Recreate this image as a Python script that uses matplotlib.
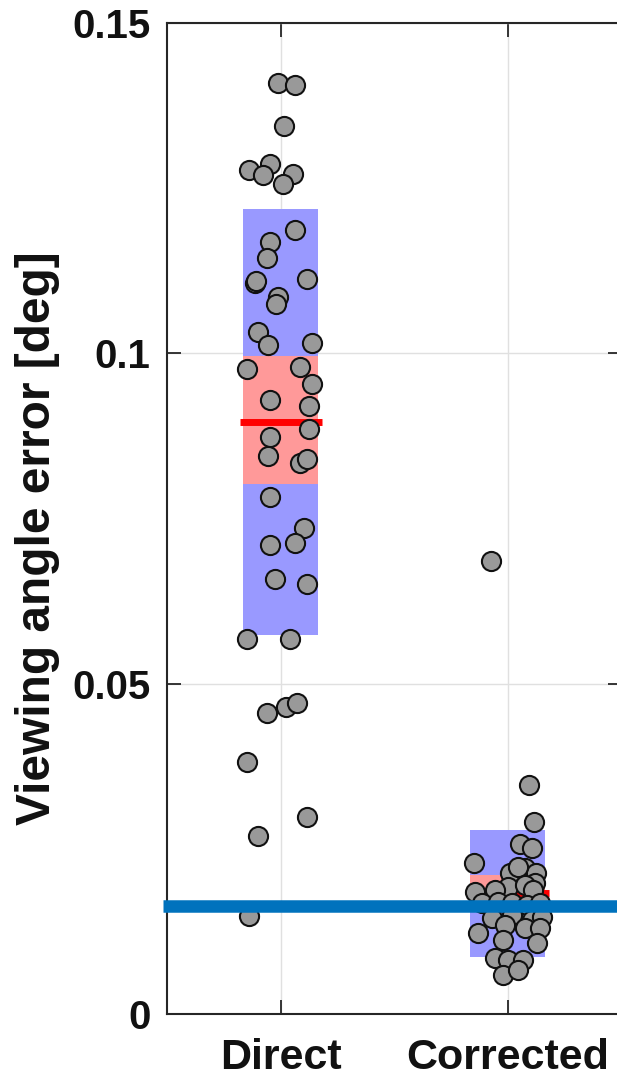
import matplotlib
matplotlib.use("Agg")
import matplotlib.pyplot as plt
import numpy as np

plt.rcParams['font.family'] = ['Liberation Sans', 'DejaVu Sans']

categories = ["Direct", "Corrected"]

direct_values = [0.1409, 0.1406, 0.1344, 0.1278, 0.1287, 0.1270, 0.1272, 0.1257,
                 0.1186, 0.1169, 0.1144, 0.1106, 0.1109, 0.1112, 0.1086, 0.1074,
                 0.1033, 0.1012, 0.1015, 0.0977, 0.0980, 0.0953, 0.0929, 0.0921,
                 0.0885, 0.0873, 0.0844, 0.0834, 0.0840, 0.0782, 0.0736, 0.0713,
                 0.0710, 0.0659, 0.0651, 0.0568, 0.0568, 0.0455, 0.0464, 0.0471,
                 0.0381, 0.0298, 0.0270, 0.0148]
direct_jitter = [-0.013, 0.062, 0.013, -0.141, -0.048, -0.079, 0.053, 0.009,
                 0.062, -0.048, -0.062, -0.115, -0.110, 0.115, -0.013, -0.022,
                 -0.101, -0.057, 0.137, -0.150, 0.084, 0.137, -0.048, 0.123,
                 0.123, -0.048, -0.057, 0.084, 0.115, -0.048, 0.101, 0.062,
                 -0.048, -0.026, 0.115, -0.150, 0.040, -0.062, 0.022, 0.070,
                 -0.150, 0.115, -0.101, -0.141]

corrected_values = [0.0346, 0.0290, 0.0258, 0.0251, 0.0228, 0.0213, 0.0221, 0.0213,
                    0.0222, 0.0199, 0.0192, 0.0195, 0.0184, 0.0187, 0.0187, 0.0168,
                    0.0169, 0.0168, 0.0165, 0.0168, 0.0145, 0.0150, 0.0142, 0.0147,
                    0.0122, 0.0134, 0.0130, 0.0130, 0.0112, 0.0107, 0.0085, 0.0082,
                    0.0082, 0.0059, 0.0066, 0.0686]
corrected_jitter = [0.093, 0.115, 0.053, 0.106, -0.150, 0.009, 0.075, 0.123,
                    0.044, 0.119, 0.000, 0.075, -0.145, -0.057, 0.110, -0.115,
                    -0.044, 0.018, 0.084, 0.141, -0.070, 0.018, 0.106, 0.150,
                    -0.132, -0.013, 0.075, 0.141, -0.022, 0.128, -0.057, 0.000,
                    0.066, -0.022, 0.044, -0.075]

means = [0.0896, 0.0183]
ci_low = [0.0802, 0.0155]
ci_high = [0.0996, 0.0211]
sd_low = [0.0573, 0.0086]
sd_high = [0.1219, 0.0279]
reference_level = 0.0163

fig = plt.figure(figsize=(6.17, 10.77), dpi=100)
ax = fig.add_axes([0.2707, 0.0585, 0.7366, 0.9201])

positions = [1, 2]
values = [direct_values, corrected_values]
jitters = [direct_jitter, corrected_jitter]
box_hw = 0.165
line_hw = 0.18

for i, p in enumerate(positions):
    ax.fill_between([p - box_hw, p + box_hw], sd_low[i], sd_high[i],
                    color='#9999FF', lw=0, zorder=2)
    ax.fill_between([p - box_hw, p + box_hw], ci_low[i], ci_high[i],
                    color='#FF9999', lw=0, zorder=3)
    ax.plot([p - line_hw, p + line_hw], [means[i], means[i]], color='#FF0000',
            lw=5, solid_capstyle='butt', zorder=4)
    xs = p + np.array(jitters[i])
    ax.scatter(xs, values[i], s=190, facecolor='#999999', edgecolor='#111111',
               linewidth=1.5, zorder=5)

ax.plot([0.482, 2.6], [reference_level, reference_level], color='#0072BD',
        lw=9, solid_capstyle='butt', zorder=6, clip_on=False)

ax.set_xlim(0.5, 2.5)
ax.set_ylim(0, 0.15)
ax.set_xticks(positions)
ax.set_xticklabels(categories)
ax.set_yticks([0, 0.05, 0.1, 0.15])
ax.set_yticklabels(['0', '0.05', '0.1', '0.15'])
ax.grid(True, color='#E0E0E0', lw=1, zorder=0)
ax.set_axisbelow(True)
ax.tick_params(direction='in', length=10, width=1.3, colors='#262626',
               top=True, right=True)
ax.tick_params(axis='y', labelsize=29, pad=12)
ax.tick_params(axis='x', labelsize=31, pad=17)
for lab in ax.get_xticklabels() + ax.get_yticklabels():
    lab.set_fontweight('bold')
    lab.set_color('#111111')
for s in ax.spines.values():
    s.set_color('#262626')
    s.set_linewidth(1.5)
ax.set_ylabel('Viewing angle error [deg]', fontsize=34.5, fontweight='bold',
              color='#111111')
ax.yaxis.set_label_coords(60 / 617, 0.5, transform=fig.transFigure)

fig.savefig('out.png', dpi=100)
